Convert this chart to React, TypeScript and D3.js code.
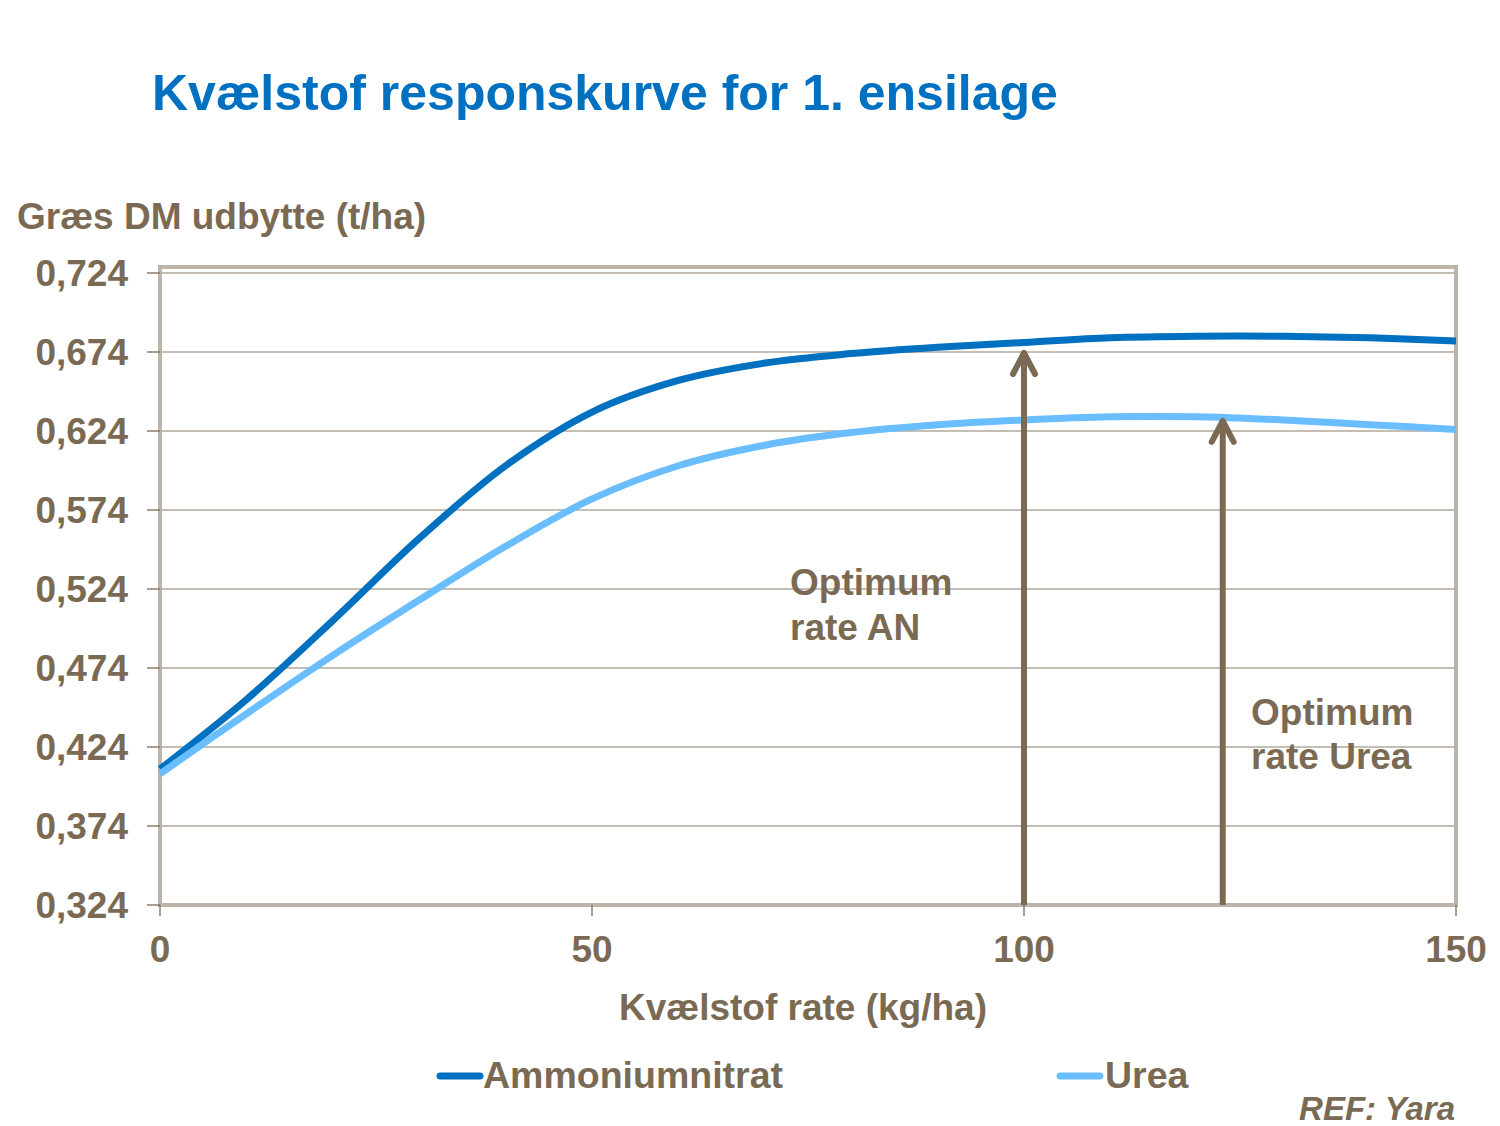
import React from 'react';
import * as d3 from 'd3';

// kg N / ha
const rates = [0, 10, 20, 30, 40, 50, 60, 70, 80, 90, 100, 110, 120, 130, 140, 150];
// DM yield (t/ha)
const ammoniumnitrat = [0.410, 0.454, 0.504, 0.556, 0.602, 0.636, 0.656, 0.667, 0.673, 0.677, 0.680, 0.683, 0.684, 0.684, 0.683, 0.681];
const urea = [0.407, 0.445, 0.482, 0.517, 0.551, 0.581, 0.602, 0.615, 0.623, 0.628, 0.631, 0.633, 0.633, 0.631, 0.628, 0.625];

const yTicks = [0.324, 0.374, 0.424, 0.474, 0.524, 0.574, 0.624, 0.674, 0.724];
const xTicks = [0, 50, 100, 150];

const optimumAN = { rate: 100, value: 0.674 };
const optimumUrea = { rate: 123, value: 0.631 };

const W = 1500;
const H = 1126;
const marginLeft = 160;
const marginRight = 44;
const marginTop = 273;
const marginBottom = 221;

const brown = '#7B6A53';
const darkBlue = '#0070C0';
const lightBlue = '#6ABEFF';
const frame = '#BDB3A8';
const font = '"Liberation Sans", Arial, sans-serif';

function Arrow({ x, y0, y1 }: { x: number, y0: number, y1: number }) {
    return (
        <g stroke={brown} strokeWidth={6} fill="none" strokeLinecap="round" strokeLinejoin="round">
            <line x1={x} x2={x} y1={y0} y2={y1 + 3} strokeLinecap="butt" />
            <polyline points={`${x - 11},${y1 + 22} ${x},${y1 + 1} ${x + 11},${y1 + 22}`} />
        </g>
    );
}

export default function App() {
    const x = d3.scaleLinear().domain([0, 150]).range([marginLeft, W - marginRight]);
    const y = d3.scaleLinear().domain([0.324, 0.724]).range([H - marginBottom, marginTop]);

    const line = d3.line<number>()
        .x((_d, i) => x(rates[i]))
        .y(d => y(d))
        .curve(d3.curveCatmullRom.alpha(0.5));

    const fmt = (v: number) => v.toFixed(3).replace('.', ',');

    return (
        <svg width={W} height={H} viewBox={`0 0 ${W} ${H}`}
            style={{ position: 'absolute', left: 0, top: 0, background: '#fff' }}
            fontFamily={font} fontWeight="bold">
            <text x={152} y={110} fill={darkBlue} fontSize={50}>Kvælstof responskurve for 1. ensilage</text>
            <text x={17} y={229} fill={brown} fontSize={37}>Græs DM udbytte (t/ha)</text>

            {/* grid */}
            {yTicks.map(t => (
                <line key={t} x1={x(0)} x2={x(150)} y1={y(t)} y2={y(t)} stroke="#B2A89C" strokeWidth={1.3} />
            ))}

            {/* frame */}
            <rect x={x(0)} y={267} width={x(150) - x(0)} height={y(0.324) - 267}
                fill="none" stroke={frame} strokeWidth={4} />

            {/* y ticks + labels */}
            {yTicks.map(t => (
                <g key={t}>
                    <line x1={x(0) - 13} x2={x(0)} y1={y(t)} y2={y(t)} stroke={brown} strokeWidth={1.3} />
                    <text x={128} y={y(t) + 13} textAnchor="end" fill={brown} fontSize={37}>{fmt(t)}</text>
                </g>
            ))}

            {/* x ticks + labels */}
            {xTicks.map(t => (
                <g key={t}>
                    <line x1={x(t)} x2={x(t)} y1={y(0.324)} y2={y(0.324) + 11} stroke={brown} strokeWidth={1.3} />
                    <text x={x(t)} y={962} textAnchor="middle" fill={brown} fontSize={37}>{t}</text>
                </g>
            ))}
            <text x={803} y={1020} textAnchor="middle" fill={brown} fontSize={37}>Kvælstof rate (kg/ha)</text>

            {/* curves */}
            <path d={line(ammoniumnitrat) || ''} fill="none" stroke={darkBlue} strokeWidth={7} />
            <path d={line(urea) || ''} fill="none" stroke={lightBlue} strokeWidth={7} />

            {/* optimum arrows */}
            <Arrow x={x(optimumAN.rate)} y0={y(0.324)} y1={y(optimumAN.value)} />
            <Arrow x={x(optimumUrea.rate)} y0={y(0.324)} y1={y(optimumUrea.value)} />
            <text fill={brown} fontSize={37}>
                <tspan x={790} y={595}>Optimum</tspan>
                <tspan x={790} y={640}>rate AN</tspan>
            </text>
            <text fill={brown} fontSize={37}>
                <tspan x={1251} y={725}>Optimum</tspan>
                <tspan x={1251} y={769}>rate Urea</tspan>
            </text>

            {/* legend */}
            <line x1={440} x2={480} y1={1076} y2={1076} stroke={darkBlue} strokeWidth={7} strokeLinecap="round" />
            <text x={483} y={1088} fill={brown} fontSize={37.5}>Ammoniumnitrat</text>
            <line x1={1060} x2={1100} y1={1076} y2={1076} stroke={lightBlue} strokeWidth={7} strokeLinecap="round" />
            <text x={1105} y={1088} fill={brown} fontSize={37.5}>Urea</text>

            <text x={1455} y={1120} textAnchor="end" fill={brown} fontSize={33} fontStyle="italic">REF: Yara</text>
        </svg>
    );
}
